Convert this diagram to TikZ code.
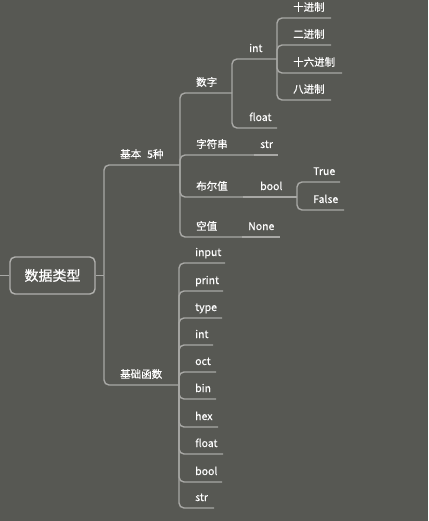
\documentclass[tikz,border=0pt]{standalone}
\usepackage{fontspec}
\setmainfont{Noto Sans CJK SC}
\newfontfamily\mapfont[FakeBold=0.5]{Noto Sans CJK SC}
\usetikzlibrary{positioning}
\definecolor{mapbg}{RGB}{87,88,83}
\definecolor{mapline}{RGB}{168,168,165}

\begin{document}
\begin{tikzpicture}[x=1pt, y=-1pt, every node/.style={inner sep=0pt, text=white}]
\tikzstyle{topic}=[anchor=base west, font=\mapfont\fontsize{10.5}{12}\selectfont]
\tikzstyle{branch}=[draw=mapline, line width=1.4pt, rounded corners=5pt]
\tikzstyle{root box}=[draw=mapline!90, line width=1.4pt, rounded corners=5pt,
  minimum width=85pt, minimum height=37pt, font=\mapfont\fontsize{14}{16}\selectfont]

\fill[mapbg] (0,0) rectangle (428,521);
\useasboundingbox (0,0) rectangle (428,521);

% root
\node[root box] (root) at (52.5,275.5) {数据类型};
\coordinate (stub) at (0,275.5);
\coordinate (trunk) at (104,275.5);
\draw[branch] (stub) -- (root.west);
\draw[branch] (root.east) -- (trunk);

% first level
\node[topic] (jiben) at (120,158) {基本\hspace{6pt}5种};
\coordinate (jiben-e) at (180,165);
\node[topic] (hanshu) at (120,378) {基础函数};
\coordinate (hanshu-e) at (179,385);
\draw[branch] (trunk) |- (jiben-e);
\draw[branch] (trunk) |- (hanshu-e);

% basic types
\node[topic] (shuzi) at (196,86) {数字};
\coordinate (shuzi-e) at (232,93);
\node[topic] (zifu) at (196,148) {字符串};
\coordinate (zifu-e) at (254,155);
\node[topic] (buer) at (196,190) {布尔值};
\coordinate (buer-e) at (243,197);
\node[topic] (kong) at (196,230) {空值};
\coordinate (kong-e) at (242,237);
\draw[branch] (jiben-e) |- (shuzi-e);
\draw[branch] (jiben-e) |- (zifu-e);
\draw[branch] (jiben-e) |- (buer-e);
\draw[branch] (jiben-e) |- (kong-e);

\node[topic] (str) at (260,148) {str};
\coordinate (str-e) at (278,155);
\node[topic] (bool) at (260,190) {bool};
\coordinate (bool-e) at (297,197);
\node[topic] (none) at (248,230) {None};
\coordinate (none-e) at (280,237);
\draw[branch] (zifu-e) -- (str-e);
\draw[branch] (buer-e) -- (bool-e);
\draw[branch] (kong-e) -- (none-e);

% numbers
\node[topic] (int) at (249,52) {int};
\coordinate (int-e) at (277,59);
\node[topic] (float) at (249,121) {float};
\coordinate (float-e) at (277,128);
\draw[branch] (shuzi-e) |- (int-e);
\draw[branch] (shuzi-e) |- (float-e);

\node[topic] (dec) at (293,11) {十进制};
\coordinate (dec-e) at (331,18);
\node[topic] (bin2) at (293,38) {二进制};
\coordinate (bin2-e) at (331,45);
\node[topic] (hex16) at (293,66) {十六进制};
\coordinate (hex16-e) at (342,73);
\node[topic] (oct8) at (293,93) {八进制};
\coordinate (oct8-e) at (331,100);
\draw[branch] (int-e) |- (dec-e);
\draw[branch] (int-e) |- (bin2-e);
\draw[branch] (int-e) |- (hex16-e);
\draw[branch] (int-e) |- (oct8-e);

% booleans
\node[topic] (true) at (313,175) {True};
\coordinate (true-e) at (340,182);
\node[topic] (false) at (313,203) {False};
\coordinate (false-e) at (344,210);
\draw[branch] (bool-e) |- (true-e);
\draw[branch] (bool-e) |- (false-e);

% builtin functions
\node[topic] (f-input) at (195,256) {input};
\coordinate (f-input-e) at (225,263);
\node[topic] (f-print) at (195,284) {print};
\coordinate (f-print-e) at (223,291);
\node[topic] (f-type) at (195,311) {type};
\coordinate (f-type-e) at (222,318);
\node[topic] (f-int) at (195,338) {int};
\coordinate (f-int-e) at (213,345);
\node[topic] (f-oct) at (195,365) {oct};
\coordinate (f-oct-e) at (216,372);
\node[topic] (f-bin) at (195,392) {bin};
\coordinate (f-bin-e) at (216,399);
\node[topic] (f-hex) at (195,420) {hex};
\coordinate (f-hex-e) at (218,427);
\node[topic] (f-float) at (195,447) {float};
\coordinate (f-float-e) at (223,454);
\node[topic] (f-bool) at (195,475) {bool};
\coordinate (f-bool-e) at (222,482);
\node[topic] (f-str) at (195,501) {str};
\coordinate (f-str-e) at (214,508);
\draw[branch] (hanshu-e) |- (f-input-e);
\draw[branch] (hanshu-e) |- (f-print-e);
\draw[branch] (hanshu-e) |- (f-type-e);
\draw[branch] (hanshu-e) |- (f-int-e);
\draw[branch] (hanshu-e) |- (f-oct-e);
\draw[branch] (hanshu-e) |- (f-bin-e);
\draw[branch] (hanshu-e) |- (f-hex-e);
\draw[branch] (hanshu-e) |- (f-float-e);
\draw[branch] (hanshu-e) |- (f-bool-e);
\draw[branch] (hanshu-e) |- (f-str-e);
\end{tikzpicture}
\end{document}
